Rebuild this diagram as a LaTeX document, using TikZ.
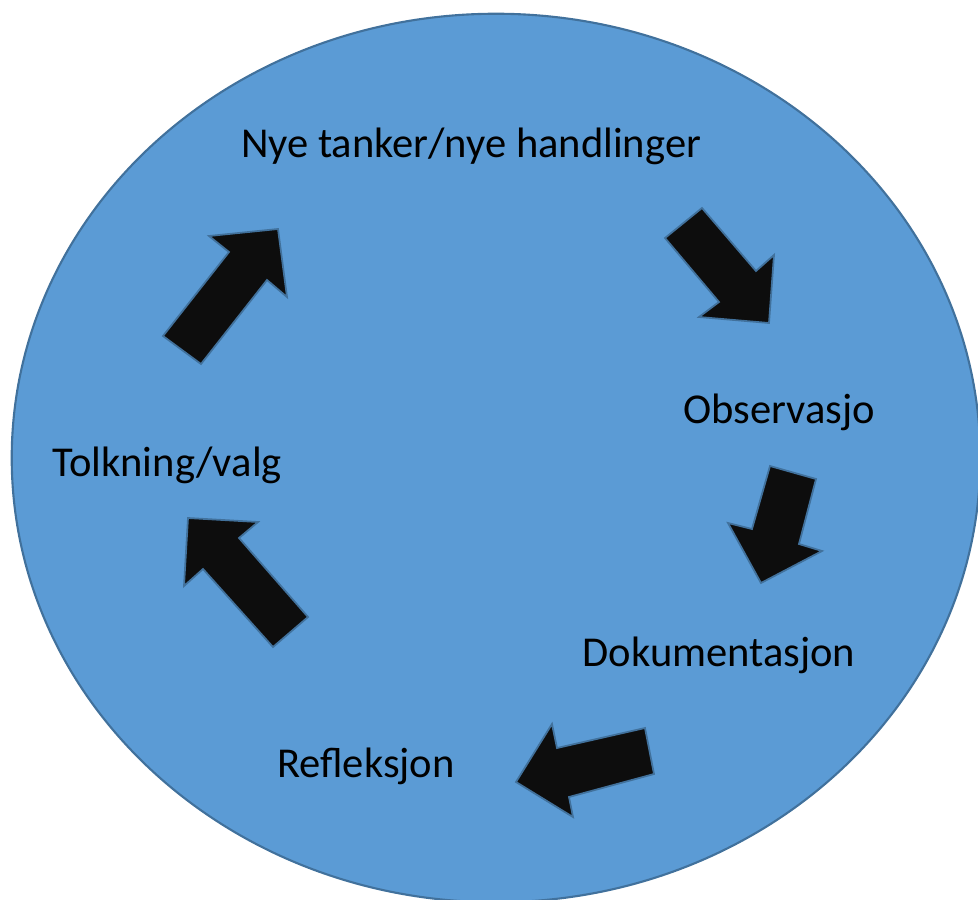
\documentclass[tikz,border=0pt]{standalone}
\usepackage{fontspec}
\setmainfont{Carlito}
\usepackage{tikz}
\usetikzlibrary{positioning}
\definecolor{cycleblue}{HTML}{5B9BD5}
\definecolor{cycleedge}{HTML}{41719C}
\definecolor{arrowblack}{HTML}{0D0D0D}

\begin{document}
\begin{tikzpicture}[x=0.01cm, y=-0.01cm,
    stage/.style={anchor=base, inner sep=0pt, font=\fontsize{12.1}{14}\selectfont},
    blockarrow/.style={fill=arrowblack, draw=cycleedge, line width=0.5pt, line join=miter}]
    \useasboundingbox (0,0) rectangle (978,900);
    \fill[cycleblue, draw=cycleedge, line width=0.6pt] (496,458) ellipse [x radius=4.84cm, y radius=4.44cm];
    \node[stage] (nye) at (471,157) {Nye tanker/nye handlinger};
    \node[stage] (obs) at (779,423) {Observasjo};
    \node[stage] (dok) at (719,666) {Dokumentasjon};
    \node[stage] (ref) at (366,777) {Refleksjon};
    \node[stage] (tolk) at (167,476) {Tolkning/valg};
    % block arrows round the cycle
    \draw[blockarrow] (665,238) -- (702,208) -- (756,271) -- (774,255) -- (769,323) -- (699,317) -- (719,302) -- cycle;
    \draw[blockarrow] (770,466) -- (816,479) -- (799,544) -- (822,551) -- (761,583) -- (728,523) -- (752,529) -- cycle;
    \draw[blockarrow] (645,728) -- (654,774) -- (569,797) -- (573,817) -- (516,782) -- (552,724) -- (557,748) -- cycle;
    \draw[blockarrow] (188,518) -- (258,522) -- (239,538) -- (308,617) -- (273,647) -- (203,569) -- (184,586) -- cycle;
    \draw[blockarrow] (163,336) -- (229,252) -- (209,236) -- (278,229) -- (287,297) -- (267,280) -- (201,364) -- cycle;
\end{tikzpicture}
\end{document}
